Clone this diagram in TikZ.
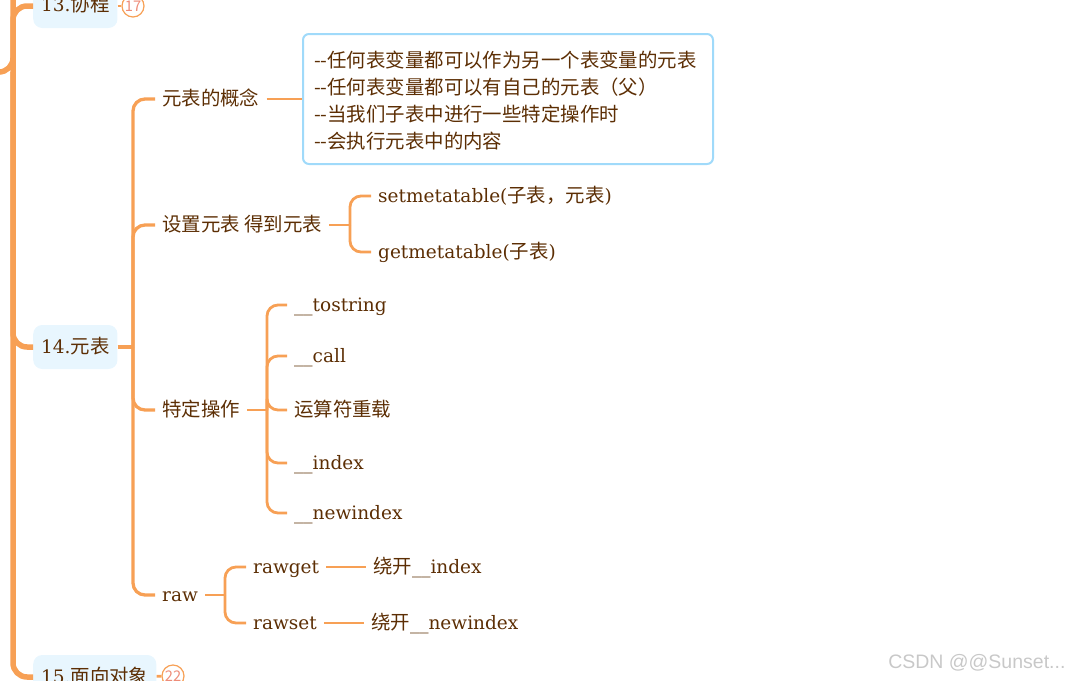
\documentclass[tikz,border=0pt]{standalone}
\usepackage{fontspec}
\setmainfont{DejaVu Serif}
\newfontfamily\cjk{Noto Sans CJK SC}[Scale=1.05]
\newfontfamily\wmfont{Liberation Sans}

\definecolor{branchorange}{RGB}{247,160,85}
\definecolor{textbrown}{RGB}{92,46,4}
\definecolor{topicfill}{RGB}{232,246,254}
\definecolor{noteblue}{RGB}{160,218,250}
\definecolor{badgetext}{RGB}{238,140,120}
\definecolor{wmgray}{RGB}{200,200,200}

\tikzset{
  trunk/.style={draw=branchorange, line width=5.5pt, rounded corners=14pt},
  branch/.style={draw=branchorange, line width=3.3pt, rounded corners=12pt},
  twig/.style={draw=branchorange, line width=2.8pt, rounded corners=11pt},
  topic/.style={fill=topicfill, rounded corners=9pt, text=textbrown, anchor=west,
    minimum height=44pt, inner xsep=8pt, text height=12pt, text depth=0pt},
  item/.style={anchor=west, text=textbrown, inner xsep=7pt, inner ysep=2pt,
    text height=12pt, text depth=0pt},
  badge/.style={circle, draw=branchorange, line width=1.2pt, fill=white,
    minimum size=22pt, inner sep=0pt, text=badgetext, font=\cjk\fontsize{14}{14}\selectfont},
  note/.style={draw=noteblue, line width=2pt, rounded corners=6pt, anchor=north west,
    minimum width=410pt, minimum height=130pt, align=left, text width=388pt,
    inner xsep=11pt, inner ysep=0pt, text=textbrown, font=\cjk\fontsize{18.5}{27}\selectfont}
}

\begin{document}
\begin{tikzpicture}[x=1pt, y=-1pt, font=\fontsize{18.5}{22}\selectfont]
% page frame, one unit is one pixel of the reference
\useasboundingbox (0,0) rectangle (1073,680);

% Main trunk and its topics
\coordinate (stub) at (0,72);
\coordinate (root) at (13,72);
\coordinate (top) at (13,-20);
\node[topic] (t13) at (33,6) {13.{\cjk 协程}};
\node[topic] (t14) at (33,347) {14.{\cjk 元表}};
\node[topic] (t15) at (33,677) {15.{\cjk 面向对象}};
\node[badge] (b13) at (133,6) {17};
\node[badge] (b15) at (173,676) {22};
\draw[trunk] (stub) -- (root) -- (top);
\draw[trunk] (root) |- (t13.west);
\draw[trunk] (root) |- (t14.west);
\draw[trunk] (root) |- (t15.west);
\draw[twig] (t13) -- (b13);
\draw[twig] (t15) -- (b15);

% Children of 14
\coordinate (j14) at (133,347);
\node[item] (concept) at (155,99) {\cjk 元表的概念};
\node[item] (setget) at (155,225) {\cjk 设置元表 得到元表};
\node[item] (ops) at (155,410) {\cjk 特定操作};
\node[item] (raw) at (155,595) {raw};
\draw[branch] (t14.east) -- (j14);
\draw[branch] (j14) |- (concept.west);
\draw[branch] (j14) |- (setget.west);
\draw[branch] (j14) |- (ops.west);
\draw[branch] (j14) |- (raw.west);

% Note box of the concept
\node[note] (note) at (302,33) {\rule{0pt}{20pt}-{}-任何表变量都可以作为另一个表变量的元表\\
  -{}-任何表变量都可以有自己的元表（父）\\
  -{}-当我们子表中进行一些特定操作时\\
  -{}-会执行元表中的内容};
\draw[twig] (concept.east) -- (concept.east -| note.west);

% set / get
\coordinate (jsg) at (350,225);
\node[item] (setmt) at (371,196) {setmetatable({\cjk 子表，元表})};
\node[item] (getmt) at (371,252) {getmetatable({\cjk 子表})};
\draw[twig] (setget.east) -- (jsg);
\draw[twig] (jsg) |- (setmt.west);
\draw[twig] (jsg) |- (getmt.west);

% special operations
\coordinate (jops) at (267,410);
\node[item] (tostr) at (287,305) {\_\_tostring};
\node[item] (call) at (287,356) {\_\_call};
\node[item] (overload) at (287,410) {\cjk 运算符重载};
\node[item] (index) at (287,463) {\_\_index};
\node[item] (newindex) at (287,513) {\_\_newindex};
\draw[twig] (ops.east) -- (jops);
\draw[twig] (jops) |- (tostr.west);
\draw[twig] (jops) |- (call.west);
\draw[twig] (jops) |- (overload.west);
\draw[twig] (jops) |- (index.west);
\draw[twig] (jops) |- (newindex.west);

% raw access
\coordinate (jraw) at (225,595);
\node[item] (rawget) at (246,567) {rawget};
\node[item] (rawset) at (246,623) {rawset};
\node[item] (skipidx) at (366,567) {{\cjk 绕开}\_\_index};
\node[item] (skipnew) at (364,623) {{\cjk 绕开}\_\_newindex};
\draw[twig] (raw.east) -- (jraw);
\draw[twig] (jraw) |- (rawget.west);
\draw[twig] (jraw) |- (rawset.west);
\draw[twig] (rawget) -- (skipidx);
\draw[twig] (rawset) -- (skipnew);

% watermark
\node[anchor=east, text=wmgray, font=\wmfont\fontsize{19.5}{20}\selectfont] (wm) at (1069,663) {CSDN @@Sunset...};
\end{tikzpicture}
\end{document}
